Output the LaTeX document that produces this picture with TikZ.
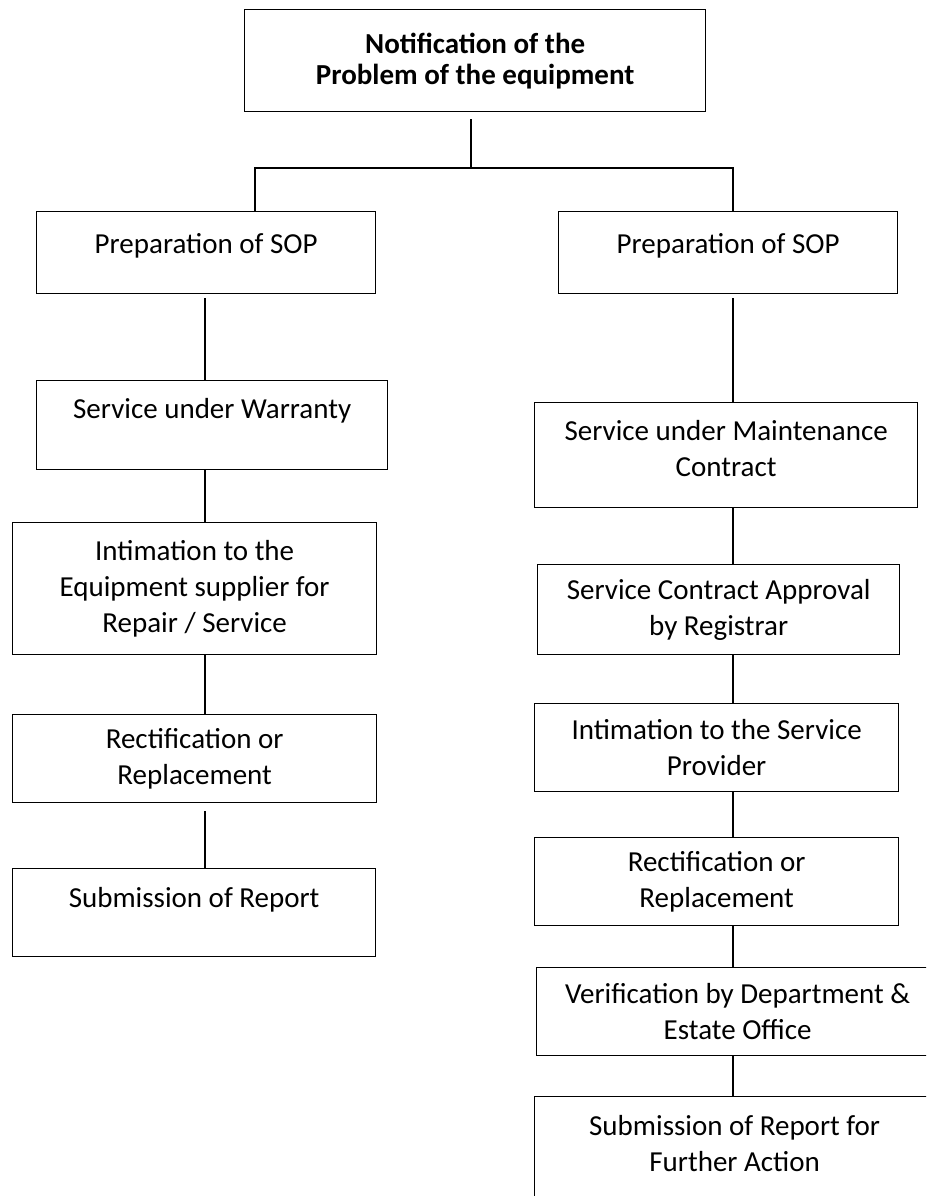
\documentclass[tikz,border=0pt]{standalone}
\usepackage{fontspec}
\setmainfont{Carlito}
\usepackage{tikz}
\tikzset{stepbox/.style={draw,line width=1.3pt,inner sep=0pt,align=center,anchor=north west,font=\fontsize{29}{36}\selectfont}}
\tikzset{link/.style={line width=1.3pt}}

\begin{document}
\begin{tikzpicture}[x=1pt,y=-1pt]
    \useasboundingbox (0,0) rectangle (926,1196);
    \clip (0,0) rectangle (926,1196);
    \coordinate (lcol) at (205,0);
    \coordinate (rcol) at (733,0);
    \coordinate (lsplit) at (255,0);
    \coordinate (split) at (471,168);
    % top
    \node[stepbox,minimum width=461pt,minimum height=102pt,font=\fontsize{29}{31}\selectfont\bfseries] (notif) at (244,9) {Notification of the\\Problem of the equipment};
    % left column
    \node[stepbox,minimum width=339pt,text height=42pt,text depth=40pt] (sopL) at (36,211) {Preparation of SOP};
    \node[stepbox,minimum width=351pt,text height=38pt,text depth=51pt] (warr) at (36,380) {Service under Warranty};
    \node[stepbox,minimum width=364pt,minimum height=132pt] (supL) at (12,522) {Intimation to the\\Equipment supplier for\\Repair / Service};
    \node[stepbox,minimum width=364pt,minimum height=88pt] (rectL) at (12,714) {Rectification or\\Replacement};
    \node[stepbox,minimum width=363pt,text height=39pt,text depth=49pt] (repL) at (12,868) {Submission of Report};
    % right column
    \node[stepbox,minimum width=339pt,text height=42pt,text depth=40pt] (sopR) at (558,211) {Preparation of SOP};
    \node[stepbox,minimum width=383pt,text height=74pt,text depth=31pt] (amc) at (534,402) {Service under Maintenance\\Contract};
    \node[stepbox,minimum width=362pt,minimum height=90pt] (appr) at (537,564) {Service Contract Approval\\by Registrar};
    \node[stepbox,minimum width=364pt,minimum height=88pt] (supR) at (534,703) {Intimation to the Service\\Provider};
    \node[stepbox,minimum width=364pt,minimum height=88pt] (rectR) at (534,837) {Rectification or\\Replacement};
    \node[stepbox,minimum width=402pt,minimum height=88pt] (verif) at (536,967) {Verification by Department \&\\Estate Office};
    \node[stepbox,minimum width=400pt,text height=75pt,text depth=40pt] (repR) at (534,1096) {Submission of Report for\\Further Action};
    % links
    \draw[link] ([yshift=-7pt]notif.south -| split) -- (split);
    \draw[link] (sopL.north -| lsplit) |- (split) -| (sopR.north -| rcol);
    \draw[link] ([yshift=-4pt]sopL.south -| lcol) -- (warr.north -| lcol);
    \draw[link] (warr.south -| lcol) -- (supL.north -| lcol);
    \draw[link] (supL.south -| lcol) -- (rectL.north -| lcol);
    \draw[link] ([yshift=-8pt]rectL.south -| lcol) -- (repL.north -| lcol);
    \draw[link] ([yshift=-4pt]sopR.south -| rcol) -- (amc.north -| rcol);
    \draw[link] (amc.south -| rcol) -- (appr.north -| rcol);
    \draw[link] (appr.south -| rcol) -- (supR.north -| rcol);
    \draw[link] (supR.south -| rcol) -- (rectR.north -| rcol);
    \draw[link] (rectR.south -| rcol) -- (verif.north -| rcol);
    \draw[link] (verif.south -| rcol) -- (repR.north -| rcol);
\end{tikzpicture}
\end{document}
